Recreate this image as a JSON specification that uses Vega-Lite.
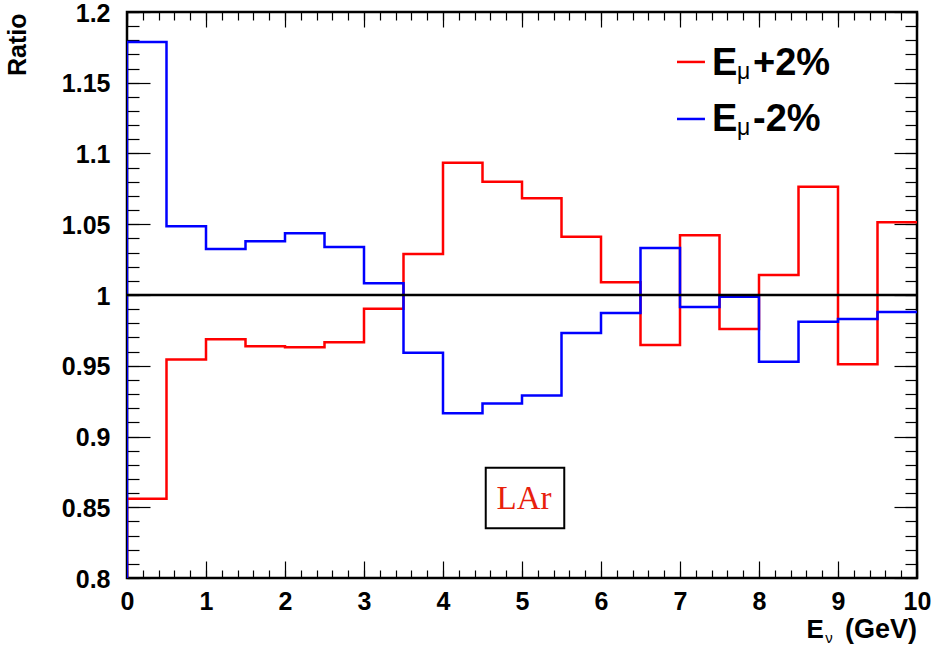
{
  "$schema": "https://vega.github.io/schema/vega-lite/v6.json",
  "width": 790,
  "height": 566,
  "autosize": {"type": "none"},
  "padding": {"left": 127, "top": 12, "right": 14, "bottom": 70},
  "background": "white",
  "config": {
    "view": {"stroke": "black", "strokeWidth": 2.5},
    "font": "Liberation Sans",
    "axis": {"grid": false, "domain": false, "offset": 0}
  },
  "data": {"values": [{}]},
  "datasets": {
    "plus": [
      {"i": 0, "enu": 0, "ratio": 0.8},
      {"i": 1, "enu": 0, "ratio": 0.856},
      {"i": 2, "enu": 0.5, "ratio": 0.9545},
      {"i": 3, "enu": 1, "ratio": 0.9687},
      {"i": 4, "enu": 1.5, "ratio": 0.9637},
      {"i": 5, "enu": 2, "ratio": 0.963},
      {"i": 6, "enu": 2.5, "ratio": 0.9666},
      {"i": 7, "enu": 3, "ratio": 0.9903},
      {"i": 8, "enu": 3.5, "ratio": 1.029},
      {"i": 9, "enu": 4, "ratio": 1.0935},
      {"i": 10, "enu": 4.5, "ratio": 1.0801},
      {"i": 11, "enu": 5, "ratio": 1.0683},
      {"i": 12, "enu": 5.5, "ratio": 1.0412},
      {"i": 13, "enu": 6, "ratio": 1.009},
      {"i": 14, "enu": 6.5, "ratio": 0.9647},
      {"i": 15, "enu": 7, "ratio": 1.0422},
      {"i": 16, "enu": 7.5, "ratio": 0.976},
      {"i": 17, "enu": 8, "ratio": 1.0141},
      {"i": 18, "enu": 8.5, "ratio": 1.0765},
      {"i": 19, "enu": 9, "ratio": 0.951},
      {"i": 20, "enu": 9.5, "ratio": 1.0514},
      {"i": 21, "enu": 10, "ratio": 1.0514}
    ],
    "minus": [
      {"i": 0, "enu": 0, "ratio": 0.8},
      {"i": 1, "enu": 0, "ratio": 1.1788},
      {"i": 2, "enu": 0.5, "ratio": 1.0485},
      {"i": 3, "enu": 1, "ratio": 1.0325},
      {"i": 4, "enu": 1.5, "ratio": 1.038},
      {"i": 5, "enu": 2, "ratio": 1.0436},
      {"i": 6, "enu": 2.5, "ratio": 1.034},
      {"i": 7, "enu": 3, "ratio": 1.0083},
      {"i": 8, "enu": 3.5, "ratio": 0.9592},
      {"i": 9, "enu": 4, "ratio": 0.9164},
      {"i": 10, "enu": 4.5, "ratio": 0.9234},
      {"i": 11, "enu": 5, "ratio": 0.9289},
      {"i": 12, "enu": 5.5, "ratio": 0.9731},
      {"i": 13, "enu": 6, "ratio": 0.9873},
      {"i": 14, "enu": 6.5, "ratio": 1.0332},
      {"i": 15, "enu": 7, "ratio": 0.9915},
      {"i": 16, "enu": 7.5, "ratio": 0.9988},
      {"i": 17, "enu": 8, "ratio": 0.9529},
      {"i": 18, "enu": 8.5, "ratio": 0.9811},
      {"i": 19, "enu": 9, "ratio": 0.983},
      {"i": 20, "enu": 9.5, "ratio": 0.988},
      {"i": 21, "enu": 10, "ratio": 0.988}
    ]
  },
  "resolve": {"axis": {"x": "independent", "y": "independent"}},
  "layer": [
    {
      "data": {"name": "plus"},
      "mark": {"type": "line", "interpolate": "step-after", "color": "#ff0000", "strokeWidth": 2.5, "clip": true},
      "encoding": {
        "x": {"field": "enu", "type": "quantitative", "scale": {"domain": [0, 10], "nice": false, "zero": false},
          "axis": {"orient": "bottom", "values": [0,1,2,3,4,5,6,7,8,9,10], "format": "d", "ticks": false,
            "labelFontWeight": "bold", "labelFontSize": 25, "labelColor": "black", "labelPadding": 11,
            "labelFlush": false, "labelOverlap": false, "title": null}},
        "y": {"field": "ratio", "type": "quantitative", "scale": {"domain": [0.8, 1.2], "nice": false, "zero": false},
          "axis": {"orient": "left", "values": [0.8,0.85,0.9,0.95,1,1.05,1.1,1.15,1.2], "format": "~g", "ticks": false,
            "labelFontWeight": "bold", "labelFontSize": 25, "labelColor": "black", "labelPadding": 17,
            "labelFlush": false, "labelOverlap": false, "labelOffset": 1,
            "title": "Ratio", "titleFontSize": 25, "titleFontWeight": "bold", "titleColor": "black",
            "titleAngle": 270, "titleAlign": "right", "titleBaseline": "alphabetic", "titleX": -102, "titleY": 1}},
        "order": {"field": "i", "type": "quantitative"}
      }
    },
    {
      "data": {"name": "minus"},
      "mark": {"type": "line", "interpolate": "step-after", "color": "#0000ff", "strokeWidth": 2.5, "clip": true},
      "encoding": {
        "x": {"field": "enu", "type": "quantitative", "scale": {"domain": [0, 10], "nice": false, "zero": false},
          "axis": {"orient": "bottom", "values": [0,1,2,3,4,5,6,7,8,9,10], "labels": false, "tickSize": -17,
            "tickColor": "black", "tickWidth": 1.2, "title": null}},
        "y": {"field": "ratio", "type": "quantitative", "scale": {"domain": [0.8, 1.2], "nice": false, "zero": false},
          "axis": {"orient": "left", "values": [0.8,0.85,0.9,0.95,1,1.05,1.1,1.15,1.2], "labels": false, "tickSize": -23,
            "tickColor": "black", "tickWidth": 1.2, "title": null}},
        "order": {"field": "i", "type": "quantitative"}
      }
    },
    {
      "mark": {"type": "rule", "color": "black", "strokeWidth": 2.5},
      "encoding": {
        "x": {"datum": 0, "type": "quantitative", "scale": {"domain": [0, 10], "nice": false, "zero": false},
          "axis": {"orient": "bottom", "values": [0,0.2,0.4,0.6,0.8,1,1.2,1.4,1.6,1.8,2,2.2,2.4,2.6,2.8,3,3.2,3.4,3.6,3.8,4,4.2,4.4,4.6,4.8,5,5.2,5.4,5.6,5.8,6,6.2,6.4,6.6,6.8,7,7.2,7.4,7.6,7.8,8,8.2,8.4,8.6,8.8,9,9.2,9.4,9.6,9.8,10],
            "labels": false, "tickSize": -8, "tickColor": "black", "tickWidth": 1.2, "title": null}},
        "x2": {"datum": 10},
        "y": {"datum": 1, "type": "quantitative", "scale": {"domain": [0.8, 1.2], "nice": false, "zero": false},
          "axis": {"orient": "left", "values": [0.8,0.81,0.82,0.83,0.84,0.85,0.86,0.87,0.88,0.89,0.9,0.91,0.92,0.93,0.94,0.95,0.96,0.97,0.98,0.99,1,1.01,1.02,1.03,1.04,1.05,1.06,1.07,1.08,1.09,1.1,1.11,1.12,1.13,1.14,1.15,1.16,1.17,1.18,1.19,1.2],
            "labels": false, "tickSize": -12, "tickColor": "black", "tickWidth": 1.2, "title": null}}
      }
    },
    {
      "mark": {"type": "rect", "fill": "white", "stroke": "black", "strokeWidth": 2},
      "encoding": {
        "x": {"datum": 4.541, "type": "quantitative", "scale": {"domain": [0, 10], "nice": false, "zero": false},
          "axis": {"orient": "top", "values": [0,1,2,3,4,5,6,7,8,9,10], "labels": false, "tickSize": -15,
            "tickColor": "black", "tickWidth": 1.2, "title": null}},
        "x2": {"datum": 5.535},
        "y": {"datum": 0.878, "type": "quantitative", "scale": {"domain": [0.8, 1.2], "nice": false, "zero": false},
          "axis": {"orient": "right", "values": [0.8,0.85,0.9,0.95,1,1.05,1.1,1.15,1.2], "labels": false, "tickSize": -23,
            "tickColor": "black", "tickWidth": 1.2, "title": null}},
        "y2": {"datum": 0.8351}
      }
    },
    {
      "mark": {"type": "text", "text": "LAr", "font": "Liberation Serif", "fontSize": 33, "color": "#e8200c", "align": "center", "baseline": "alphabetic"},
      "encoding": {
        "x": {"datum": 5.025, "type": "quantitative", "scale": {"domain": [0, 10], "nice": false, "zero": false},
          "axis": {"orient": "top", "values": [0,0.2,0.4,0.6,0.8,1,1.2,1.4,1.6,1.8,2,2.2,2.4,2.6,2.8,3,3.2,3.4,3.6,3.8,4,4.2,4.4,4.6,4.8,5,5.2,5.4,5.6,5.8,6,6.2,6.4,6.6,6.8,7,7.2,7.4,7.6,7.8,8,8.2,8.4,8.6,8.8,9,9.2,9.4,9.6,9.8,10],
            "labels": false, "tickSize": -8, "tickColor": "black", "tickWidth": 1.2, "title": null}},
        "y": {"datum": 0.8488, "type": "quantitative", "scale": {"domain": [0.8, 1.2], "nice": false, "zero": false},
          "axis": {"orient": "right", "values": [0.8,0.81,0.82,0.83,0.84,0.85,0.86,0.87,0.88,0.89,0.9,0.91,0.92,0.93,0.94,0.95,0.96,0.97,0.98,0.99,1,1.01,1.02,1.03,1.04,1.05,1.06,1.07,1.08,1.09,1.1,1.11,1.12,1.13,1.14,1.15,1.16,1.17,1.18,1.19,1.2],
            "labels": false, "tickSize": -12, "tickColor": "black", "tickWidth": 1.2, "title": null}}
      }
    },
    {
      "mark": {"type": "rule", "color": "#ff0000", "strokeWidth": 2.5},
      "encoding": {
        "x": {"datum": 6.962, "type": "quantitative", "scale": {"domain": [0, 10], "nice": false, "zero": false}, "axis": null},
        "x2": {"datum": 7.316},
        "y": {"datum": 1.1647, "type": "quantitative", "scale": {"domain": [0.8, 1.2], "nice": false, "zero": false}, "axis": null}
      }
    },
    {
      "mark": {"type": "rule", "color": "#0000ff", "strokeWidth": 2.5},
      "encoding": {
        "x": {"datum": 6.962, "type": "quantitative", "scale": {"domain": [0, 10], "nice": false, "zero": false}, "axis": null},
        "x2": {"datum": 7.316},
        "y": {"datum": 1.1244, "type": "quantitative", "scale": {"domain": [0.8, 1.2], "nice": false, "zero": false}, "axis": null}
      }
    },
    {
      "mark": {"type": "text", "text": "E", "fontSize": 38, "fontWeight": "bold", "color": "black", "align": "left", "baseline": "alphabetic"},
      "encoding": {
        "x": {"datum": 7.405, "type": "quantitative", "scale": {"domain": [0, 10], "nice": false, "zero": false}, "axis": null},
        "y": {"datum": 1.1555, "type": "quantitative", "scale": {"domain": [0.8, 1.2], "nice": false, "zero": false}, "axis": null}
      }
    },
    {
      "mark": {"type": "text", "text": "μ", "fontSize": 23, "color": "black", "align": "left", "baseline": "alphabetic"},
      "encoding": {
        "x": {"datum": 7.722, "type": "quantitative", "scale": {"domain": [0, 10], "nice": false, "zero": false}, "axis": null},
        "y": {"datum": 1.1527, "type": "quantitative", "scale": {"domain": [0.8, 1.2], "nice": false, "zero": false}, "axis": null}
      }
    },
    {
      "mark": {"type": "text", "text": "+2%", "fontSize": 38, "fontWeight": "bold", "color": "black", "align": "left", "baseline": "alphabetic"},
      "encoding": {
        "x": {"datum": 7.924, "type": "quantitative", "scale": {"domain": [0, 10], "nice": false, "zero": false}, "axis": null},
        "y": {"datum": 1.1555, "type": "quantitative", "scale": {"domain": [0.8, 1.2], "nice": false, "zero": false}, "axis": null}
      }
    },
    {
      "mark": {"type": "text", "text": "E", "fontSize": 38, "fontWeight": "bold", "color": "black", "align": "left", "baseline": "alphabetic"},
      "encoding": {
        "x": {"datum": 7.405, "type": "quantitative", "scale": {"domain": [0, 10], "nice": false, "zero": false}, "axis": null},
        "y": {"datum": 1.1159, "type": "quantitative", "scale": {"domain": [0.8, 1.2], "nice": false, "zero": false}, "axis": null}
      }
    },
    {
      "mark": {"type": "text", "text": "μ", "fontSize": 23, "color": "black", "align": "left", "baseline": "alphabetic"},
      "encoding": {
        "x": {"datum": 7.722, "type": "quantitative", "scale": {"domain": [0, 10], "nice": false, "zero": false}, "axis": null},
        "y": {"datum": 1.1131, "type": "quantitative", "scale": {"domain": [0.8, 1.2], "nice": false, "zero": false}, "axis": null}
      }
    },
    {
      "mark": {"type": "text", "text": "-2%", "fontSize": 38, "fontWeight": "bold", "color": "black", "align": "left", "baseline": "alphabetic"},
      "encoding": {
        "x": {"datum": 7.924, "type": "quantitative", "scale": {"domain": [0, 10], "nice": false, "zero": false}, "axis": null},
        "y": {"datum": 1.1159, "type": "quantitative", "scale": {"domain": [0.8, 1.2], "nice": false, "zero": false}, "axis": null}
      }
    },
    {
      "mark": {"type": "text", "text": "E", "fontSize": 26, "fontWeight": "bold", "color": "black", "align": "left", "baseline": "alphabetic"},
      "encoding": {
        "x": {"datum": 8.6, "type": "quantitative", "scale": {"domain": [0, 10], "nice": false, "zero": false}, "axis": null},
        "y": {"datum": 0.7576, "type": "quantitative", "scale": {"domain": [0.8, 1.2], "nice": false, "zero": false}, "axis": null}
      }
    },
    {
      "mark": {"type": "text", "text": "ν", "fontSize": 15, "color": "black", "align": "left", "baseline": "alphabetic"},
      "encoding": {
        "x": {"datum": 8.84, "type": "quantitative", "scale": {"domain": [0, 10], "nice": false, "zero": false}, "axis": null},
        "y": {"datum": 0.7538, "type": "quantitative", "scale": {"domain": [0.8, 1.2], "nice": false, "zero": false}, "axis": null}
      }
    },
    {
      "mark": {"type": "text", "text": "(GeV)", "fontSize": 27, "fontWeight": "bold", "color": "black", "align": "right", "baseline": "alphabetic"},
      "encoding": {
        "x": {"datum": 10, "type": "quantitative", "scale": {"domain": [0, 10], "nice": false, "zero": false}, "axis": null},
        "y": {"datum": 0.7576, "type": "quantitative", "scale": {"domain": [0.8, 1.2], "nice": false, "zero": false}, "axis": null}
      }
    }
  ]
}
